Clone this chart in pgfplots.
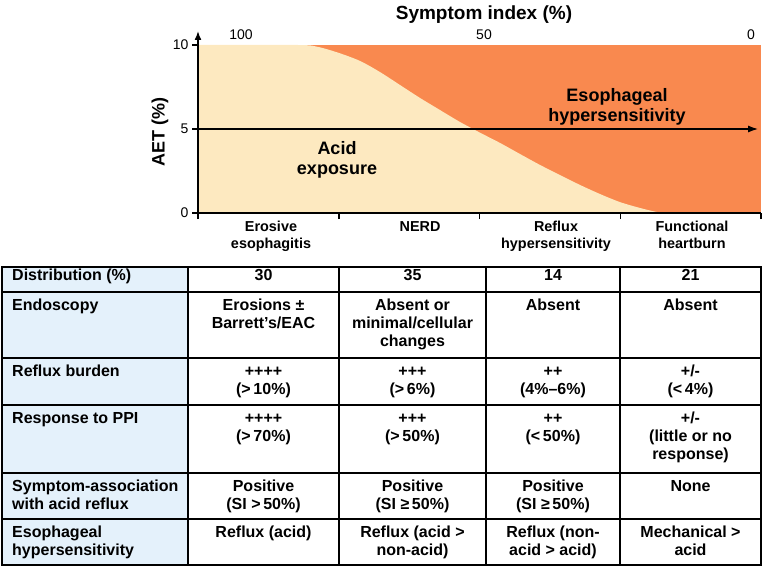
\documentclass[border=0pt]{standalone}
\usepackage{fontspec}
\setmainfont{Liberation Sans}
\usepackage{pgfplots}
\pgfplotsset{compat=1.18}
\usetikzlibrary{arrows.meta}
\definecolor{beige}{HTML}{FDE9C0}
\definecolor{orng}{HTML}{F9894F}
\definecolor{lblue}{HTML}{E4F1FB}
\newcommand{\tf}{\fontsize{16}{17.8}\selectfont\bfseries}
\newcommand{\cf}{\fontsize{14.4}{17}\selectfont\bfseries}
\newcommand{\cell}[3]{\node[anchor=north, inner sep=0pt, align=center, font=\tf] at (#1,#2) {\rule{0pt}{13pt}#3};}
\newcommand{\hcell}[2]{\node[anchor=north west, inner sep=0pt, align=left, font=\tf] at (12,#1) {\rule{0pt}{13pt}#2};}
\begin{document}
\begin{tikzpicture}
\useasboundingbox (0,0) rectangle (768pt,-567pt);
\begin{axis}[
  at={(198pt,-213pt)}, anchor=south west,
  scale only axis, width=563pt, height=168pt,
  xmin=0, xmax=4, ymin=0, ymax=10,
  axis lines=left, axis line style={line width=1.5pt, -},
  xtick={0,1,2,3,4}, xticklabels={,,,,},
  ytick={0,5,10},
  tick align=outside, major tick length=6pt,
  tick style={line width=1.5pt, black},
  ticklabel style={font=\fontsize{14}{16}\selectfont},
  /pgf/number format/assume math mode=true,
  axis on top,
]
\addplot[draw=none, fill=orng] coordinates {(0,10) (4,10)} \closedcycle;
\addplot[draw=none, fill=beige, smooth] coordinates {
(0,10) (0.71,10) (0.85,9.89) (1.00,9.53) (1.151,9.05) (1.293,8.39)
(1.435,7.62) (1.577,6.85) (1.719,6.13) (1.861,5.42) (2.004,4.78)
(2.146,4.17) (2.288,3.51) (2.430,2.86) (2.572,2.26) (2.714,1.67)
(2.856,1.13) (2.998,0.65) (3.140,0.30) (3.26,0.06) (3.33,0) (4,0)
} \closedcycle;
\draw[line width=1.5pt, -{Latex[length=10pt,width=7pt]}] (axis cs:0,5) -- (axis cs:3.98,5);
\end{axis}
\begin{scope}[x=1pt,y=-1pt]
\draw[line width=1.5pt, -{Latex[length=9pt,width=7pt]}] (198,46) -- (198,31);
% titles
\node[anchor=base, inner sep=0pt, font=\fontsize{19}{22}\selectfont\bfseries] at (484,20) {Symptom index (\%)};
\node[anchor=base, inner sep=0pt, font=\fontsize{14}{16}\selectfont] at (241,40) {100};
\node[anchor=base, inner sep=0pt, font=\fontsize{14}{16}\selectfont] at (484,40) {50};
\node[anchor=base, inner sep=0pt, font=\fontsize{14}{16}\selectfont] at (751,40) {0};
\node[rotate=90, inner sep=0pt, font=\fontsize{18}{20}\selectfont\bfseries] at (160,132) {AET (\%)};
\node[inner sep=0pt, align=center, font=\fontsize{18}{20}\selectfont\bfseries] at (337,160) {Acid\\exposure};
\node[inner sep=0pt, align=center, font=\fontsize{18}{20}\selectfont\bfseries] at (617,107) {Esophageal\\hypersensitivity};
% category labels
\node[anchor=north, inner sep=0pt, align=center, font=\cf] at (271,220) {\rule{0pt}{11pt}Erosive\\esophagitis};
\node[anchor=north, inner sep=0pt, align=center, font=\cf] at (420,220) {\rule{0pt}{11pt}NERD};
\node[anchor=north, inner sep=0pt, align=center, font=\cf] at (556,220) {\rule{0pt}{11pt}Reflux\\hypersensitivity};
\node[anchor=north, inner sep=0pt, align=center, font=\cf] at (692,220) {\rule{0pt}{11pt}Functional\\heartburn};
% table
\fill[lblue] (2,267) rectangle (188,565);
\foreach \yy in {292,358,405,473,519} \draw[line width=1.6pt] (2,\yy) -- (761,\yy);
\foreach \xx in {188,339,486,620} \draw[line width=1.6pt] (\xx,267) -- (\xx,565);
\draw[line width=2pt] (2,267) rectangle (761,565);
% row 1
\hcell{267.5}{Distribution (\%)}
\cell{263.5}{267.5}{30}
\cell{412.5}{267.5}{35}
\cell{553}{267.5}{14}
\cell{690.5}{267.5}{21}
% row 2
\hcell{297.5}{Endoscopy}
\cell{263.5}{297.5}{Erosions ±\\Barrett’s/EAC}
\cell{412.5}{297.5}{Absent or\\minimal/cellular\\changes}
\cell{553}{297.5}{Absent}
\cell{690.5}{297.5}{Absent}
% row 3
\hcell{363.5}{Reflux burden}
\cell{263.5}{363.5}{++++\\(>\,10\%)}
\cell{412.5}{363.5}{+++\\(>\,6\%)}
\cell{553}{363.5}{++\\(4\%–6\%)}
\cell{690.5}{363.5}{+/-\\(<\,4\%)}
% row 4
\hcell{410.5}{Response to PPI}
\cell{263.5}{410.5}{++++\\(>\,70\%)}
\cell{412.5}{410.5}{+++\\(>\,50\%)}
\cell{553}{410.5}{++\\(<\,50\%)}
\cell{690.5}{410.5}{+/-\\(little or no\\response)}
% row 5
\hcell{478.5}{Symptom-association\\with acid reflux}
\cell{263.5}{478.5}{Positive\\(SI >\,50\%)}
\cell{412.5}{478.5}{Positive\\(SI ≥\,50\%)}
\cell{553}{478.5}{Positive\\(SI ≥\,50\%)}
\cell{690.5}{478.5}{None}
% row 6
\hcell{524.5}{Esophageal\\hypersensitivity}
\cell{263.5}{524.5}{Reflux (acid)}
\cell{412.5}{524.5}{Reflux (acid >\\non-acid)}
\cell{553}{524.5}{Reflux (non-\\acid > acid)}
\cell{690.5}{524.5}{Mechanical >\\acid}
\end{scope}
\end{tikzpicture}
\end{document}
